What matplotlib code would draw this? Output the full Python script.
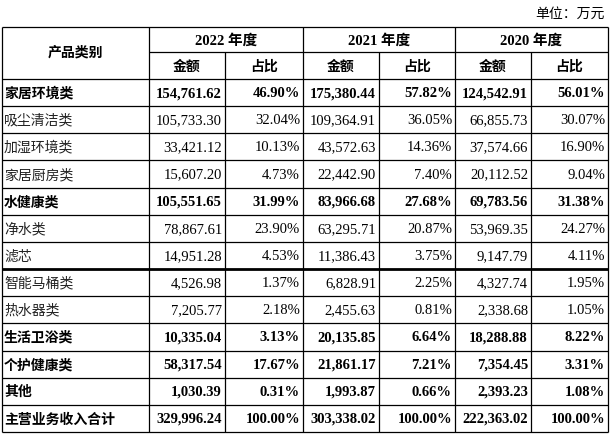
import matplotlib
matplotlib.use('Agg')
import matplotlib.pyplot as plt

# Table contents (单位: 万元)
categories = ['家居环境类', '吸尘清洁类', '加湿环境类', '家居厨房类', '水健康类', '净水类', '滤芯',
              '智能马桶类', '热水器类', '生活卫浴类', '个护健康类', '其他', '主营业务收入合计']
is_bold = [1, 0, 0, 0, 1, 0, 0, 0, 0, 1, 1, 1, 1]
years = ['2022 年度', '2021 年度', '2020 年度']

amt_2022 = [154761.62, 105733.30, 33421.12, 15607.20, 105551.65, 78867.61, 14951.28,
            4526.98, 7205.77, 10335.04, 58317.54, 1030.39, 329996.24]
pct_2022 = [46.90, 32.04, 10.13, 4.73, 31.99, 23.90, 4.53, 1.37, 2.18, 3.13, 17.67, 0.31, 100.00]
amt_2021 = [175380.44, 109364.91, 43572.63, 22442.90, 83966.68, 63295.71, 11386.43,
            6828.91, 2455.63, 20135.85, 21861.17, 1993.87, 303338.02]
pct_2021 = [57.82, 36.05, 14.36, 7.40, 27.68, 20.87, 3.75, 2.25, 0.81, 6.64, 7.21, 0.66, 100.00]
amt_2020 = [124542.91, 66855.73, 37574.66, 20112.52, 69783.56, 53969.35, 9147.79,
            4327.74, 2338.68, 18288.88, 7354.45, 2393.23, 222363.02]
pct_2020 = [56.01, 30.07, 16.90, 9.04, 31.38, 24.27, 4.11, 1.95, 1.05, 8.22, 3.31, 1.08, 100.00]

columns = [amt_2022, pct_2022, amt_2021, pct_2021, amt_2020, pct_2020]

W, H = 611, 436
fig = plt.figure(figsize=(W / 100, H / 100), dpi=100)
ax = fig.add_axes([0, 0, 1, 1])
ax.set_xlim(0, W)
ax.set_ylim(H, 0)
ax.axis('off')

# layout in pixels
col_x = [2, 149, 225, 303, 379, 455, 531, 608]
top, mid, head_bot, bot = 27, 52, 79, 432
n = len(categories)
row_h = (bot - head_bot) / n
row_y = [head_bot + i * row_h for i in range(n + 1)]

fam = ['Liberation Serif', 'Noto Sans CJK SC']
cjk = ['Noto Sans CJK SC', 'DejaVu Sans']
fs = 10

# grid lines
lw = 0.9
ax.hlines([top, head_bot, bot], col_x[0], col_x[-1], color='black', lw=lw)
ax.hlines(mid, col_x[1], col_x[-1], color='black', lw=lw)
for i, y in enumerate(row_y[1:-1], start=1):
    ax.hlines(y, col_x[0], col_x[-1], color='black', lw=2.0 if i == 7 else lw)
ax.vlines([col_x[0], col_x[1], col_x[3], col_x[5], col_x[7]], top, bot, color='black', lw=lw)
ax.vlines([col_x[2], col_x[4], col_x[6]], mid, bot, color='black', lw=lw)

# unit note
ax.text(605, 14, '单位：万元', ha='right', va='center', fontsize=fs, family=cjk,
        fontweight='light')

# header
ax.text((col_x[0] + col_x[1]) / 2, (top + head_bot) / 2, '产品类别', ha='center', va='center',
        fontsize=fs, family=cjk, fontweight='bold')
for k, yr in enumerate(years):
    xc = (col_x[1 + 2 * k] + col_x[3 + 2 * k]) / 2
    ax.text(xc, (top + mid) / 2 + 1, yr, ha='center', va='center', fontsize=fs + 0.5,
            family=fam, fontweight='bold')
    for j, lab in enumerate(['金额', '占比']):
        xc2 = (col_x[1 + 2 * k + j] + col_x[2 + 2 * k + j]) / 2
        ax.text(xc2, (mid + head_bot) / 2 + 1, lab, ha='center', va='center', fontsize=fs,
                family=cjk, fontweight='bold')

# body
for i, cat in enumerate(categories):
    yc = (row_y[i] + row_y[i + 1]) / 2 + 1
    w = 'bold' if is_bold[i] else 'light'
    ax.text(4, yc, cat, ha='left', va='center', fontsize=fs, family=cjk, fontweight=w,
            color='black' if is_bold[i] else '#222222')
    for c, vals in enumerate(columns):
        v = vals[i]
        s = f'{v:,.2f}' if c % 2 == 0 else f'{v:.2f}%'
        ax.text(col_x[c + 2] - 3, yc, s, ha='right', va='center', fontsize=fs + 0.5,
                family=fam, fontweight='bold' if is_bold[i] else 'normal')

fig.savefig('out.png', dpi=100)
